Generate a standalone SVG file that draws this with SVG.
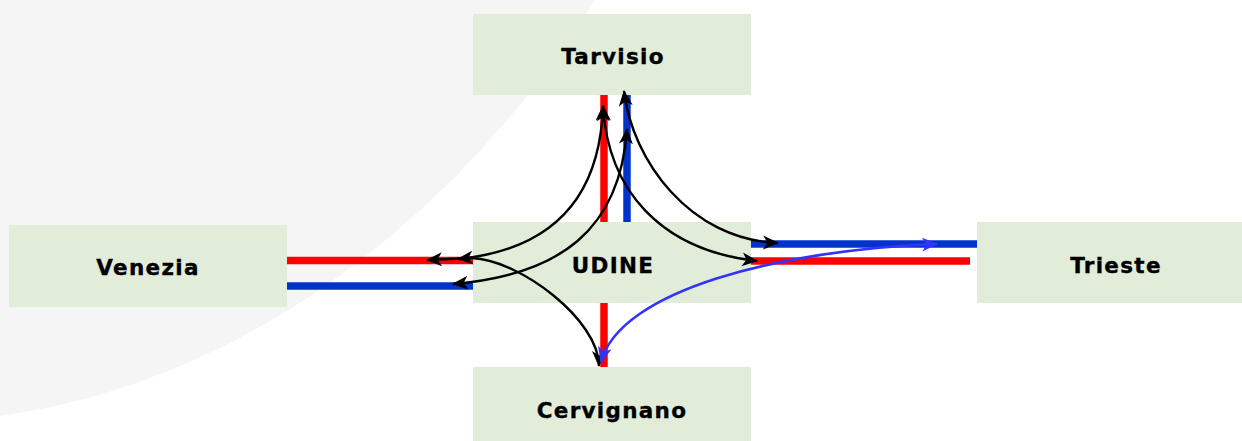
<svg xmlns="http://www.w3.org/2000/svg" width="1242" height="441" viewBox="0 0 1242 441">
<style>
.box{fill:#e1ecd9}
.lbl{font-family:"DejaVu Sans","Liberation Sans",sans-serif;font-weight:bold;font-size:21.5px;letter-spacing:1.3px;fill:#000;stroke:#000;stroke-width:0.35px;text-anchor:middle}
.red{stroke:#ff0000;stroke-width:7.5;fill:none}
.blu{stroke:#0033cc;stroke-width:7.5;fill:none}
.crv{stroke:#000;stroke-width:2.4;fill:none;marker-start:url(#ah);marker-end:url(#ah)}
.bcrv{stroke:#3333ff;stroke-width:2.6;fill:none;marker-start:url(#bh);marker-end:url(#bh)}
</style>
<defs>
<marker id="ah" viewBox="0 0 16 14" refX="15" refY="7" markerWidth="16" markerHeight="14" markerUnits="userSpaceOnUse" orient="auto-start-reverse"><path d="M0,0 L16,7 L0,14 L4.5,7 Z" fill="#000"/></marker>
<marker id="bh" viewBox="0 0 16 14" refX="15" refY="7" markerWidth="16" markerHeight="14" markerUnits="userSpaceOnUse" orient="auto-start-reverse"><path d="M0,0 L16,7 L0,14 L4.5,7 Z" fill="#3333ff"/></marker>
</defs>
<path d="M0,0 L595,0 C470,200 260,380 0,416 Z" fill="#f5f5f5"/>
<g id="Tarvisio"><rect class="box" x="473" y="14" width="278" height="81"/><text class="lbl" x="613" y="64">Tarvisio</text></g>
<g id="UDINE"><rect class="box" x="473" y="222" width="278" height="81"/></g>
<g id="Venezia"><rect class="box" x="9" y="225" width="278" height="82"/><text class="lbl" x="148" y="275">Venezia</text></g>
<g id="Trieste"><rect class="box" x="977" y="222" width="265" height="81"/><text class="lbl" x="1116" y="273">Trieste</text></g>
<g id="Cervignano"><rect class="box" x="473" y="367" width="278" height="74"/><text class="lbl" x="612" y="418">Cervignano</text></g>
<g id="connectors">
<line class="red" x1="604" y1="95" x2="604" y2="222"/>
<line class="blu" x1="627" y1="95" x2="627" y2="222"/>
<line class="red" x1="287" y1="260.5" x2="473" y2="260.5"/>
<line class="blu" x1="287" y1="286" x2="473" y2="286"/>
<line class="blu" x1="751" y1="244" x2="977" y2="244"/>
<line class="red" x1="751" y1="261" x2="970" y2="261"/>
<line class="red" x1="604" y1="303" x2="604" y2="367"/>
<path class="crv" d="M603,106 C600,200 550,250 458,259"/>
<path class="crv" d="M603,106 C608,190 660,250 757,261"/>
<path class="crv" d="M624,91 C632,160 690,240 778,243"/>
<path class="crv" d="M627,129 C620,230 560,275 453,284"/>
<path class="crv" d="M427,260 L472,258 C520,260 599,320 599,366"/>
<path class="bcrv" d="M937,244 C780,250 620,290 601,362"/>
</g>
<text class="lbl" x="613" y="273">UDINE</text>
</svg>
